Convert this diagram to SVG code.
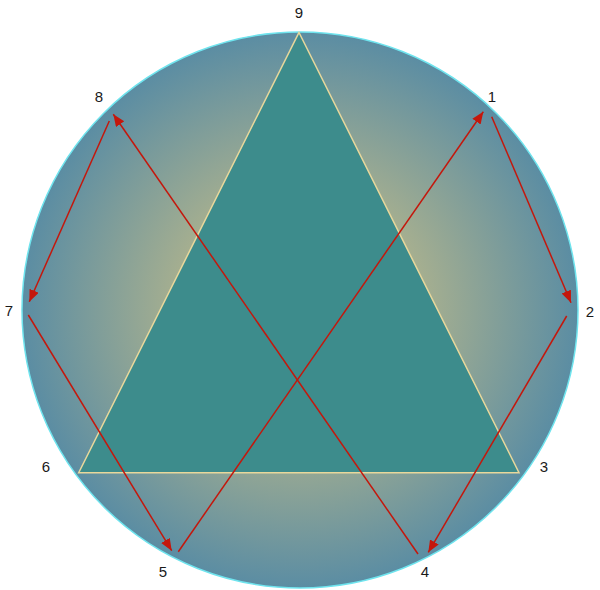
<svg xmlns="http://www.w3.org/2000/svg" width="600" height="590" viewBox="0 0 600 590">
<style>
.lbl{font-family:"Liberation Sans",Arial,sans-serif;font-size:15px;fill:#1a1a1a;text-anchor:middle}
.arr{stroke:#c4170c;stroke-width:1.5;fill:none;marker-end:url(#ah)}
</style>
<defs>
<radialGradient id="bg" gradientUnits="userSpaceOnUse" cx="300" cy="310" r="278">
<stop offset="0" stop-color="#e2ca80"/>
<stop offset="1" stop-color="#5b8da3"/>
</radialGradient>
<marker id="ah" markerUnits="userSpaceOnUse" markerWidth="14" markerHeight="12" refX="12" refY="5" orient="auto">
<path d="M0,0 L12,5 L0,10 Z" fill="#c4170c"/>
</marker>
</defs>
<g id="circle">
<circle cx="300" cy="310" r="278" fill="url(#bg)" stroke="#6fe4ee" stroke-width="1.5"/>
</g>
<g id="triangle">
<polygon points="299,32.5 519,472.7 78.7,472.7" fill="#3d8c8c" stroke="#e8d89c" stroke-width="1.5"/>
</g>
<g id="connectors">
<line class="arr" x1="178.3" y1="551.7" x2="483.3" y2="111.7"/>
<line class="arr" x1="491.7" y1="116.7" x2="571" y2="302.7"/>
<line class="arr" x1="566.7" y1="316" x2="428.3" y2="552.3"/>
<line class="arr" x1="418" y1="554" x2="113.3" y2="114.3"/>
<line class="arr" x1="109.3" y1="121" x2="29.3" y2="301.7"/>
<line class="arr" x1="28.3" y1="315" x2="171.7" y2="550.7"/>
</g>
<g id="n9"><text class="lbl" x="299" y="18">9</text></g>
<g id="n1"><text class="lbl" x="492" y="102">1</text></g>
<g id="n2"><text class="lbl" x="590" y="317">2</text></g>
<g id="n3"><text class="lbl" x="544" y="472">3</text></g>
<g id="n4"><text class="lbl" x="425" y="577">4</text></g>
<g id="n5"><text class="lbl" x="163" y="577">5</text></g>
<g id="n6"><text class="lbl" x="46" y="472">6</text></g>
<g id="n7"><text class="lbl" x="9" y="316">7</text></g>
<g id="n8"><text class="lbl" x="99" y="102">8</text></g>
</svg>
